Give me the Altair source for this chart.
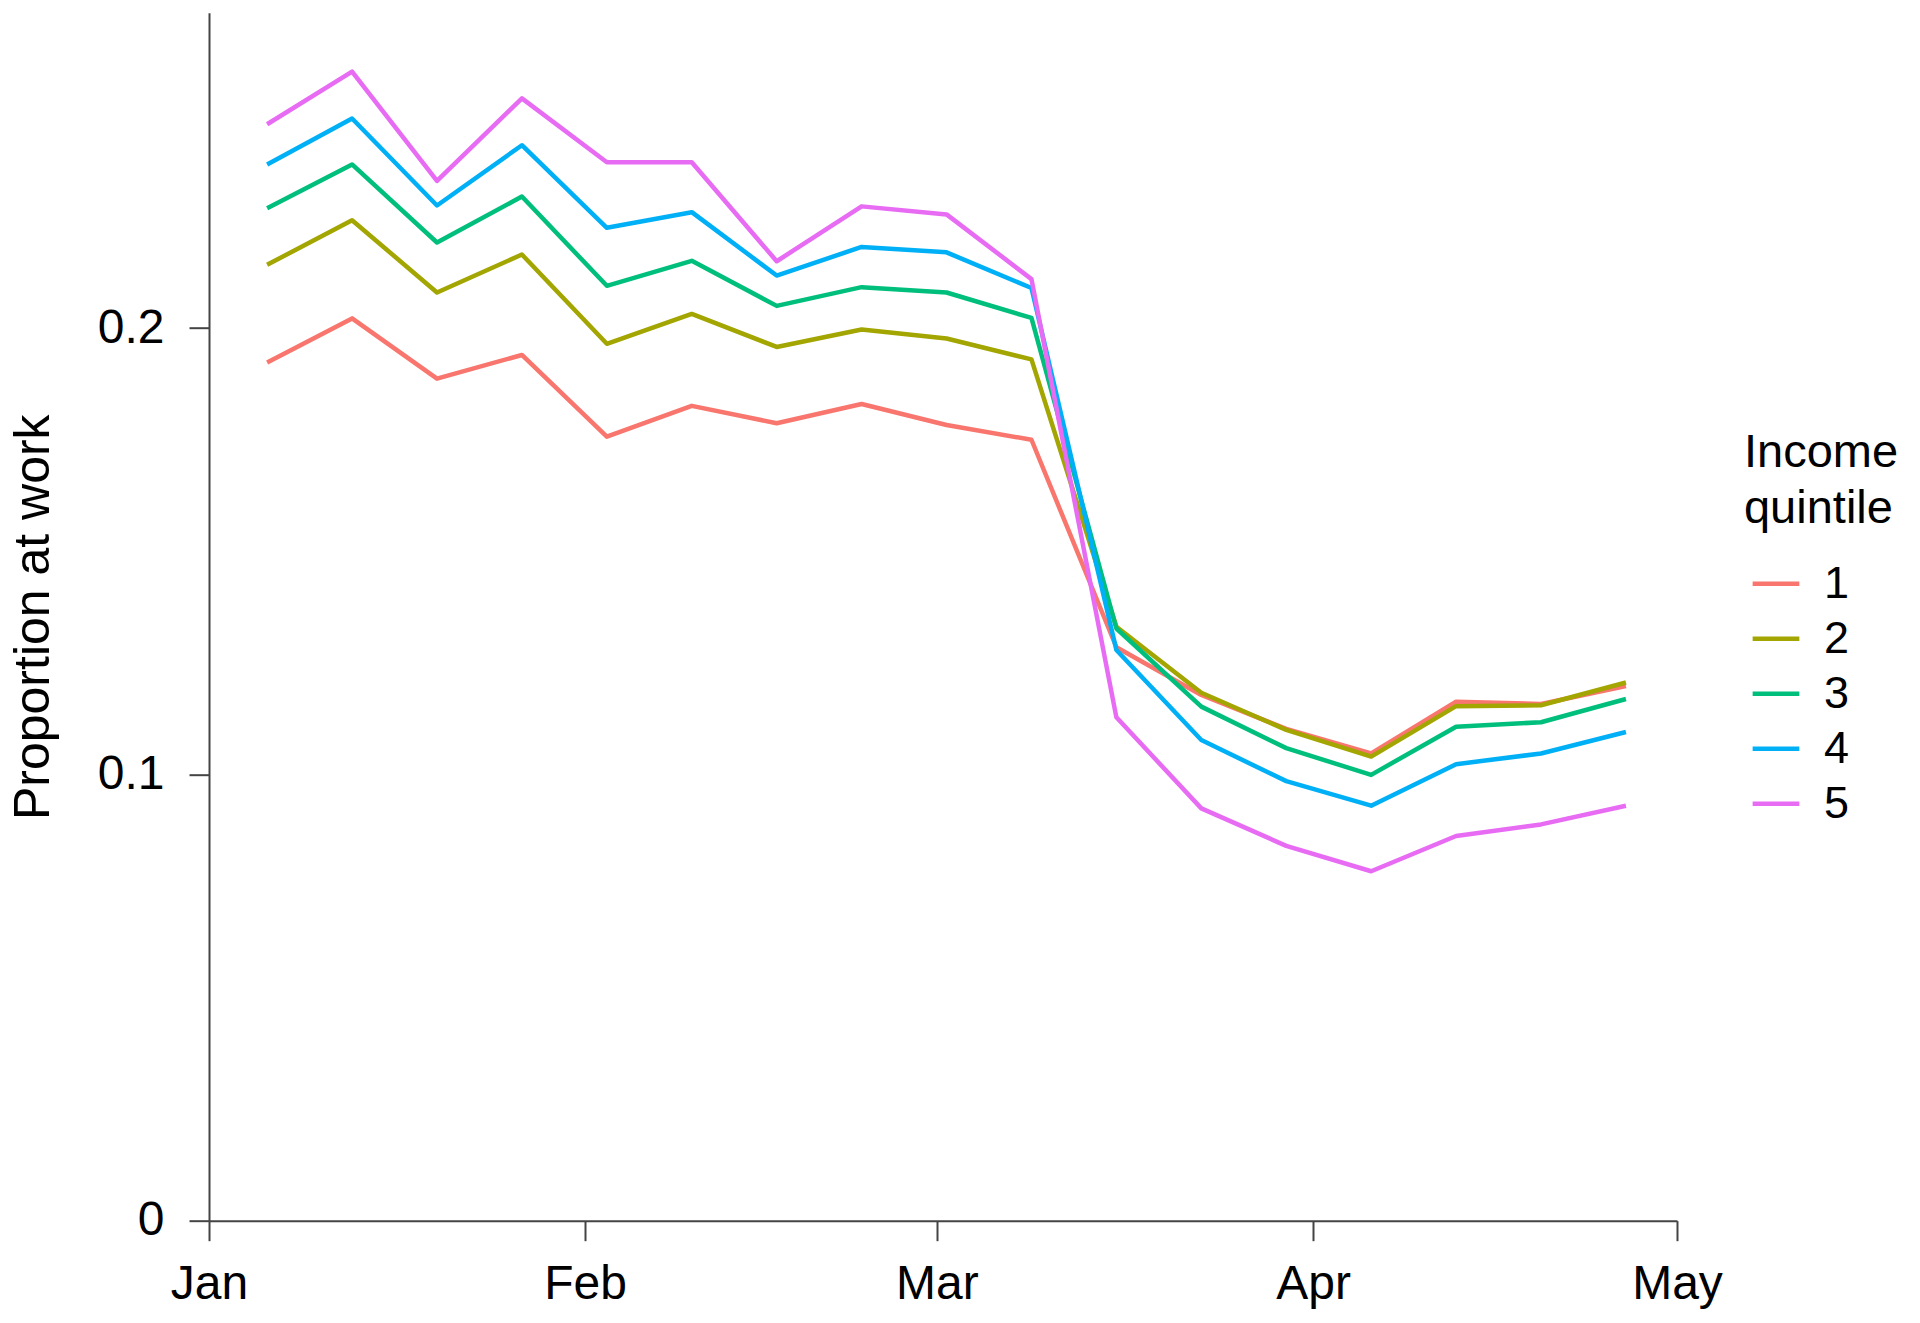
import altair as alt
import pandas as pd

# Weekly dates (as plotted)
dates = [
    "2020-01-05T19:00", "2020-01-12T19:00", "2020-01-19T19:00", "2020-01-26T19:00",
    "2020-02-02T19:00", "2020-02-09T19:00", "2020-02-16T19:00", "2020-02-23T19:00",
    "2020-03-01T19:00", "2020-03-08T19:00", "2020-03-15T19:00", "2020-03-22T19:00",
    "2020-03-29T19:00", "2020-04-05T19:00", "2020-04-12T19:00", "2020-04-19T19:00",
    "2020-04-26T19:00",
]

quintiles = ["1", "2", "3", "4", "5"]

q1 = [0.1923, 0.2022, 0.1887, 0.1940, 0.1757, 0.1826, 0.1787, 0.1830, 0.1783,
      0.1750, 0.1285, 0.1178, 0.1102, 0.1047, 0.1163, 0.1158, 0.1198]
q2 = [0.2142, 0.2242, 0.2080, 0.2165, 0.1965, 0.2032, 0.1958, 0.1997, 0.1977,
      0.1930, 0.1331, 0.1183, 0.1100, 0.1040, 0.1153, 0.1155, 0.1206]
q3 = [0.2269, 0.2367, 0.2192, 0.2295, 0.2095, 0.2151, 0.2050, 0.2092, 0.2080,
      0.2023, 0.1327, 0.1152, 0.1059, 0.0999, 0.1107, 0.1117, 0.1169]
q4 = [0.2367, 0.2470, 0.2275, 0.2410, 0.2225, 0.2260, 0.2118, 0.2182, 0.2170,
      0.2090, 0.1279, 0.1077, 0.0985, 0.0930, 0.1023, 0.1047, 0.1095]
q5 = [0.2457, 0.2575, 0.2330, 0.2515, 0.2372, 0.2372, 0.2150, 0.2273, 0.2255,
      0.2110, 0.1128, 0.0924, 0.0840, 0.0783, 0.0862, 0.0888, 0.0930]

series = [q1, q2, q3, q4, q5]
colors = ["#F8766D", "#A3A500", "#00BF7D", "#00B0F6", "#E76BF3"]

y_ticks = [0, 0.1, 0.2]
x_ticks = [alt.DateTime(year=2020, month=m, date=1) for m in [1, 2, 3, 4, 5]]

rows = []
for q, vals in zip(quintiles, series):
    for d, v in zip(dates, vals):
        rows.append({"date": d, "value": v, "quintile": q})
df = pd.DataFrame(rows)

FONT = "Liberation Sans"
AXIS_COLOR = "#444444"

chart = (
    alt.Chart(df)
    .mark_line(strokeWidth=4.5, strokeJoin="round")
    .encode(
        x=alt.X(
            "date:T",
            scale=alt.Scale(
                domain=[alt.DateTime(year=2020, month=1, date=1),
                        alt.DateTime(year=2020, month=5, date=1)],
                nice=False,
            ),
            axis=alt.Axis(
                title=None,
                values=x_ticks,
                format="%b",
                labelPadding=20,
                labelAlign="center",
            ),
        ),
        y=alt.Y(
            "value:Q",
            scale=alt.Scale(domain=[0, 0.2707], nice=False, zero=True),
            axis=alt.Axis(
                title="Proportion at work",
                values=y_ticks,
                format="~g",
                labelPadding=25,
                titleFontSize=50,
                titleX=-161,
                titleY=604,
                titleAngle=270,
                titleBaseline="alphabetic",
                titleAlign="center",
            ),
        ),
        color=alt.Color(
            "quintile:N",
            scale=alt.Scale(domain=quintiles, range=colors),
            legend=alt.Legend(
                title=["Income", "quintile"],
                orient="none",
                legendX=1535,
                legendY=417,
                padding=0,
                titleFontSize=47,
                titleLineHeight=56,
                titleFontWeight="normal",
                titleColor="#000000",
                titleFont=FONT,
                titleAlign="left",
                titlePadding=25,
                labelFontSize=45,
                labelFont=FONT,
                labelColor="#000000",
                labelOffset=22,
                symbolType="stroke",
                symbolSize=2180,
                symbolStrokeWidth=4.5,
                symbolOffset=6,
                rowPadding=6,
            ),
        ),
    )
    .properties(
        width=1468,
        height=1208,
        autosize=alt.AutoSizeParams(type="none"),
        padding={"left": 201, "top": 4.7, "right": 235, "bottom": 94},
    )
    .configure_view(stroke=None)
    .configure_axis(
        grid=False,
        domainColor=AXIS_COLOR,
        domainWidth=2,
        tickColor=AXIS_COLOR,
        tickWidth=2,
        tickSize=20,
        labelFont=FONT,
        labelFontSize=48,
        labelColor="#000000",
        titleFont=FONT,
        titleFontWeight="normal",
        titleColor="#000000",
    )
)

chart.save("out.html", embed_options={"renderer": "svg", "actions": False})
